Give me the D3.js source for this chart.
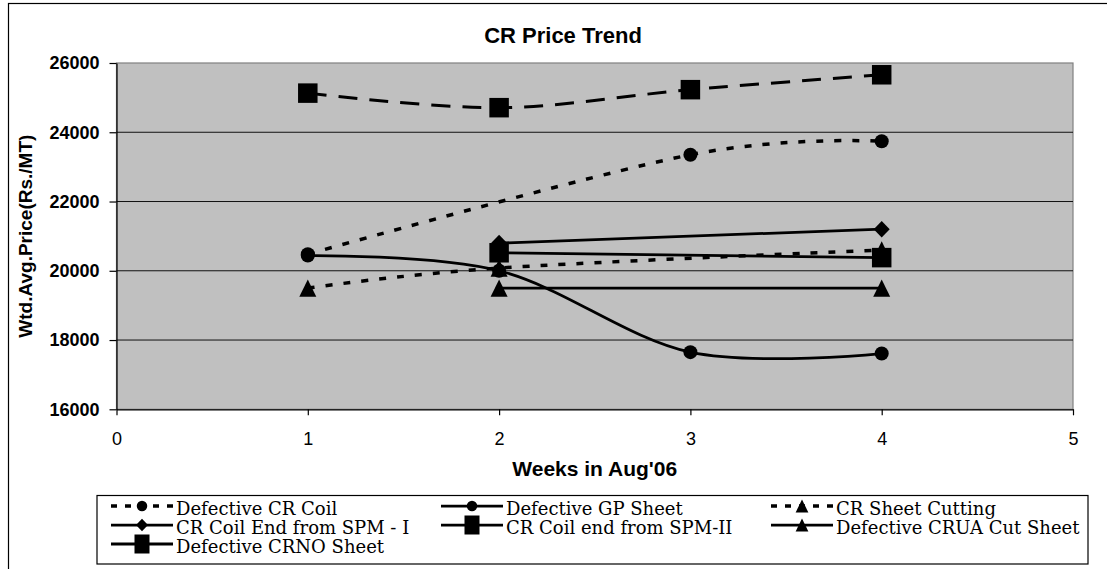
<!DOCTYPE html>
<html>
<head>
<meta charset="utf-8">
<script src="https://cdn.jsdelivr.net/npm/d3@7"></script>
<style>
  body { margin: 0; background: #fff; }
  svg { display: block; }
</style>
</head>
<body>
<svg id="chart"></svg>
<script>
// data
var weeks = [1, 2, 3, 4];
var xTicks = [0, 1, 2, 3, 4, 5];
var yTicks = [16000, 18000, 20000, 22000, 24000, 26000];

var seriesNames = ["Defective CR Coil", "Defective GP Sheet", "CR Sheet Cutting",
  "CR Coil End from SPM - I", "CR Coil end from SPM-II", "Defective CRUA Cut Sheet",
  "Defective CRNO Sheet"];

var defectiveCRCoil   = [20480, null, 23350, 23740];
var defectiveGPSheet  = [20440, 20000, 17650, 17610];
var crSheetCutting    = [19500, 20080, null, 20600];
var crCoilEndSPM1     = [null, 20800, null, 21200];
var crCoilEndSPM2     = [null, 20520, null, 20380];
var defectiveCRUACut  = [null, 19500, null, 19500];
var defectiveCRNO     = [25130, 24710, 25230, 25660];

var seriesValues = [defectiveCRCoil, defectiveGPSheet, crSheetCutting,
  crCoilEndSPM1, crCoilEndSPM2, defectiveCRUACut, defectiveCRNO];

// styles for each series (line dash + marker)
var styles = [
  {dash: "7,11", width: 3.5, marker: "circle"},
  {dash: null,   width: 2.75, marker: "circle"},
  {dash: "7,11", width: 3.5, marker: "triangle"},
  {dash: null,   width: 2.75, marker: "diamond"},
  {dash: null,   width: 2.75, marker: "square"},
  {dash: null,   width: 2.75, marker: "triangle"},
  {dash: "19,12", width: 3, marker: "square"}
];

var W = 1107, H = 569;
var plot = {left: 116.5, right: 1073, top: 63, bottom: 409.3};

var svg = d3.select("#chart").attr("width", W).attr("height", H);

// outer chart frame
svg.append("rect")
  .attr("x", 8.5).attr("y", 3.5)
  .attr("width", 1130).attr("height", 600)
  .attr("fill", "#fff").attr("stroke", "#000").attr("stroke-width", 1.2);

var xScale = d3.scaleLinear().domain([0, 5]).range([plot.left, plot.right]);
var yScale = d3.scaleLinear().domain([16000, 26000]).range([plot.bottom, plot.top]);

// plot area
svg.append("rect")
  .attr("x", plot.left).attr("y", plot.top)
  .attr("width", plot.right - plot.left).attr("height", plot.bottom - plot.top)
  .attr("fill", "#c0c0c0").attr("stroke", "#808080").attr("stroke-width", 1.2);

// gridlines
svg.append("g").selectAll("line")
  .data(yTicks.slice(1, -1)).enter()
  .append("line")
  .attr("x1", plot.left).attr("x2", plot.right)
  .attr("y1", function(d){ return yScale(d); })
  .attr("y2", function(d){ return yScale(d); })
  .attr("stroke", "#111").attr("stroke-width", 1);

// axes
var y_axis = d3.axisLeft(yScale).tickValues(yTicks).tickSize(7).tickSizeOuter(0)
  .tickPadding(10).tickFormat(d3.format("d"));
var x_axis = d3.axisBottom(xScale).tickValues(xTicks).tickSize(6).tickSizeOuter(0)
  .tickPadding(17).tickFormat(d3.format("d"));

var gy = svg.append("g").attr("transform", "translate(" + plot.left + ",0)").call(y_axis);
gy.selectAll("text").attr("font-family", "'Liberation Sans', Arial, sans-serif")
  .attr("font-size", 18).attr("font-weight", "bold").attr("fill", "#000");
var gx = svg.append("g").attr("transform", "translate(0," + plot.bottom + ")").call(x_axis);
gx.selectAll("text").attr("font-family", "'Liberation Sans', Arial, sans-serif")
  .attr("font-size", 18).attr("fill", "#000");
svg.selectAll(".domain, .tick line").attr("stroke", "#000").attr("stroke-width", 1.2);

// titles
svg.append("text").attr("x", 563).attr("y", 43).attr("text-anchor", "middle")
  .attr("font-family", "'Liberation Sans', Arial, sans-serif")
  .attr("font-size", 22).attr("font-weight", "bold").text("CR Price Trend");

svg.append("text").attr("x", (plot.left + plot.right) / 2).attr("y", 476)
  .attr("text-anchor", "middle")
  .attr("font-family", "'Liberation Sans', Arial, sans-serif")
  .attr("font-size", 21).attr("font-weight", "bold").text("Weeks in Aug'06");

svg.append("text")
  .attr("transform", "translate(32," + (plot.top + plot.bottom) / 2 + ") rotate(-90)")
  .attr("text-anchor", "middle")
  .attr("font-family", "'Liberation Sans', Arial, sans-serif")
  .attr("font-size", 19).attr("font-weight", "bold").text("Wtd.Avg.Price(Rs./MT)");

// marker drawing
var drawMarker = function(g, type, cx, cy, big) {
  var k = big ? 1 : 0.75;
  if (type == "circle") {
    g.append("circle").attr("cx", cx).attr("cy", cy).attr("r", 7 * k).attr("fill", "#000");
  } else if (type == "square") {
    var s = big ? 19.5 : 15, t = big ? 19.5 : 19;
    g.append("rect").attr("x", cx - s / 2).attr("y", cy - t / 2)
      .attr("width", s).attr("height", t).attr("fill", "#000");
  } else if (type == "diamond") {
    var hw = 8 * k, hh = 8.3 * k;
    g.append("path").attr("d", "M" + cx + "," + (cy - hh) + "L" + (cx + hw) + "," + cy +
      "L" + cx + "," + (cy + hh) + "L" + (cx - hw) + "," + cy + "Z").attr("fill", "#000");
  } else if (type == "triangle") {
    var w = 8.5 * k, h = 8.7 * k;
    g.append("path").attr("d", "M" + cx + "," + (cy - h) + "L" + (cx + w) + "," + (cy + h) +
      "L" + (cx - w) + "," + (cy + h) + "Z").attr("fill", "#000");
  }
};

var line = d3.line()
  .x(function(d){ return xScale(d.week); })
  .y(function(d){ return yScale(d.value); })
  .curve(d3.curveCardinal.tension(0));

var lines = svg.append("g").classed("series", true);
seriesValues.forEach(function(vals, i) {
  var pts = weeks.map(function(w, j){ return {week: w, value: vals[j]}; })
    .filter(function(d){ return d.value != null; });
  var g = lines.append("g");
  g.append("path").datum(pts).attr("d", line)
    .attr("fill", "none").attr("stroke", "#000")
    .attr("stroke-width", styles[i].width)
    .attr("stroke-dasharray", styles[i].dash);
  pts.forEach(function(d){
    drawMarker(g, styles[i].marker, xScale(d.week), yScale(d.value), true);
  });
});

// legend
var legend = svg.append("g").classed("legend", true);
legend.append("rect").attr("x", 97).attr("y", 495.5).attr("width", 991).attr("height", 68.5)
  .attr("fill", "#fff").attr("stroke", "#000").attr("stroke-width", 1.2);

var colX = [111, 441, 771];
var rowY = [506, 525, 544];
seriesNames.forEach(function(name, i) {
  var cx = colX[i % 3], cy = rowY[Math.floor(i / 3)];
  var item = legend.append("g");
  item.append("line").attr("x1", cx).attr("x2", cx + 62).attr("y1", cy).attr("y2", cy)
    .attr("stroke", "#000").attr("stroke-width", styles[i].width)
    .attr("stroke-dasharray", styles[i].dash ? (i == 6 ? null : "6,8") : null);
  drawMarker(item, styles[i].marker, cx + 31, cy, false);
  item.append("text").attr("x", cx + 65).attr("y", cy + 9)
    .attr("font-family", "'DejaVu Serif', serif").attr("font-size", 18)
    .attr("fill", "#000").text(name);
});
</script>
</body>
</html>
